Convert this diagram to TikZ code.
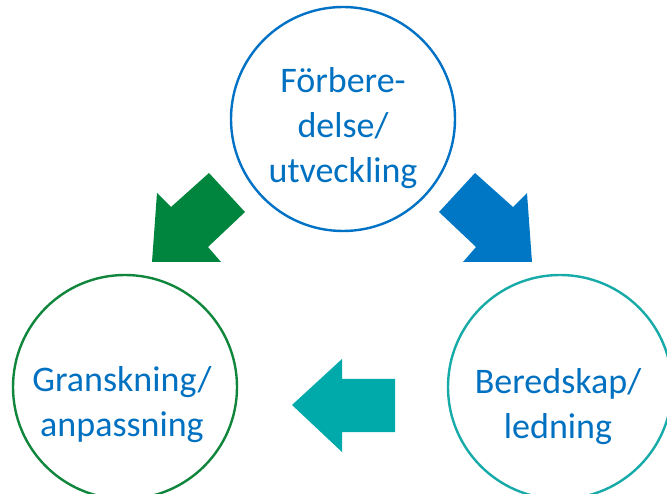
\documentclass[tikz,border=0pt]{standalone}
\usepackage{fontspec}
\setmainfont{Carlito}
\definecolor{txtblue}{RGB}{0,112,192}
\definecolor{cblue}{RGB}{0,114,198}
\definecolor{cgreen}{RGB}{16,134,60}
\definecolor{cteal}{RGB}{22,170,168}
\definecolor{agreen}{RGB}{0,133,62}
\definecolor{ablue}{RGB}{0,119,196}
\definecolor{ateal}{RGB}{0,170,170}
\begin{document}
\begin{tikzpicture}[x=1pt,y=-1pt,
  ring/.style={circle,draw=#1,line width=2.4pt,minimum size=224pt,inner sep=0pt},
  label/.style={text=txtblue,align=center,font=\fontsize{36}{45}\selectfont}]
\useasboundingbox (0,0) rectangle (667,494);
\node[ring=cblue] (top) at (343,119) {};
\node[ring=cgreen] (left) at (125,387) {};
\node[ring=cteal] (right) at (560,387) {};
\node[label] (ttop) at (343,128) {Förbere-\\delse/\\utveckling};
\node[label] (tleft) at (122,405) {Granskning/\\anpassning};
\node[label] (tright) at (558,407) {Beredskap/\\ledning};
\fill[agreen] (152,262) -- (157,193) -- (171,207) -- (209,173) -- (245,212) -- (208,247) -- (221,262) -- cycle;
\fill[ablue] (532,262) -- (527,193) -- (513,207) -- (475,173) -- (439,212) -- (476,247) -- (463,262) -- cycle;
\fill[ateal] (292,405) -- (342,359) -- (342,379) -- (395,379) -- (395,432) -- (342,432) -- (342,452) -- cycle;
\end{tikzpicture}
\end{document}
